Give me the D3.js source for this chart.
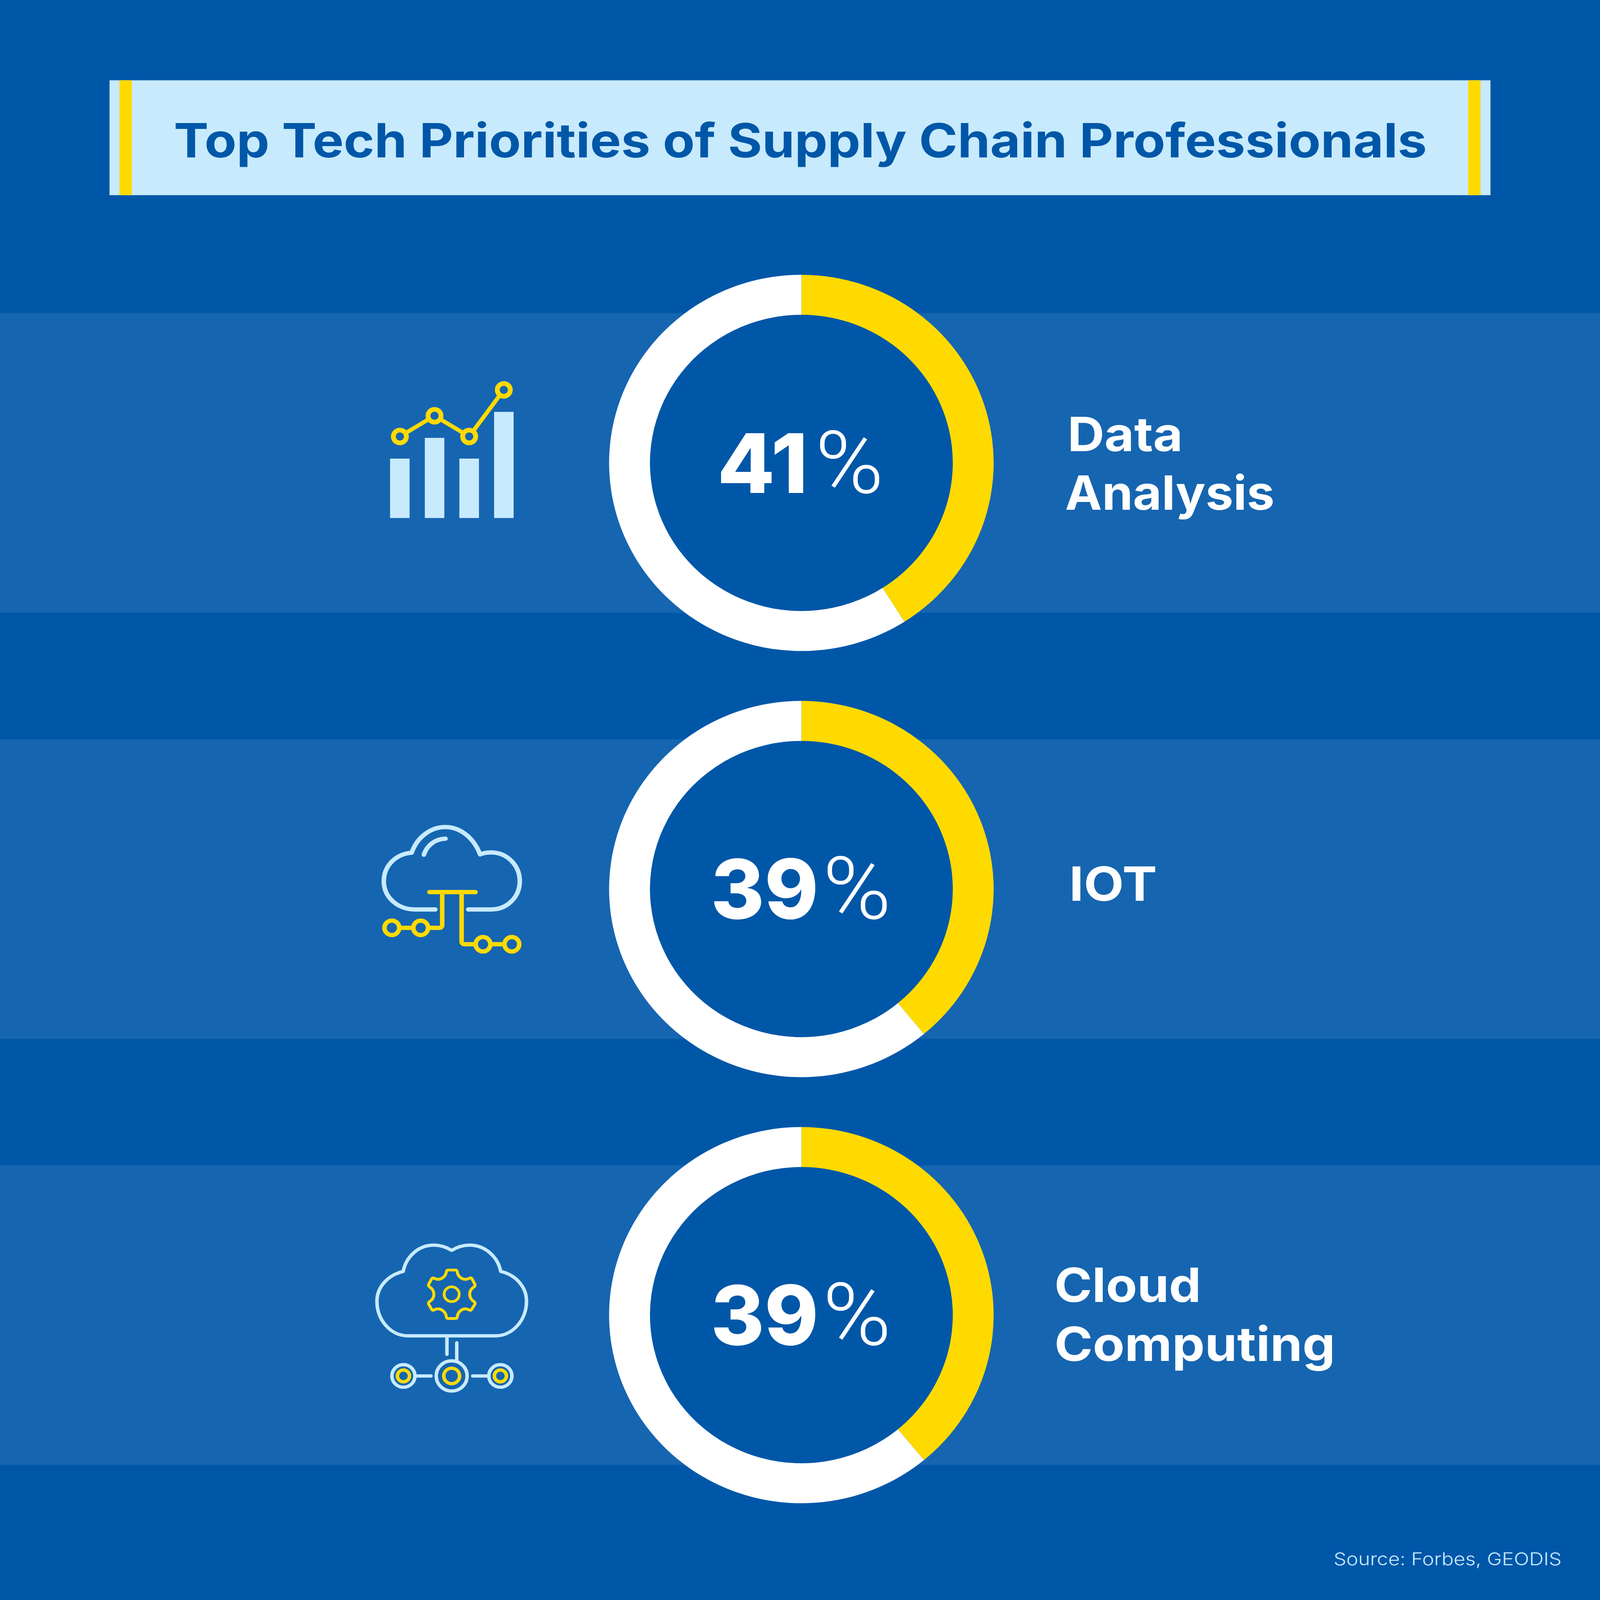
<!DOCTYPE html>
<html>
<head>
<meta charset="utf-8">
<script src="https://cdn.jsdelivr.net/npm/d3@7"></script>
<style>
  html, body { margin: 0; padding: 0; background: #0057a8; overflow: hidden; }
  svg { display: block; width: 100vw; height: 100vh; }
  text { font-family: Inter, "Noto Sans", sans-serif; }
</style>
</head>
<body>
<div id="chart"></div>
<script>
// chart data
const titleText = "Top Tech Priorities of Supply Chain Professionals";
const sourceText = "Source: Forbes, GEODIS";
const categories = ["Data Analysis", "IOT", "Cloud Computing"];
const categoryLines = [["Data", "Analysis"], ["IOT"], ["Cloud", "Computing"]];
const shares = [41, 39, 39];

const width = 4660, height = 4763;
const darkBlue = "#0057a8", bandBlue = "#1665b0", pale = "#c7eafd", yellow = "#ffda00";

// layout, measured on the reference
const outerR = 560, innerR = 441, centerX = 2334;
const bandHeight = 892;
const pctLayout = [
  {numX: 2099, numW: 248, pctX: 2382},
  {numX: 2080, numW: 298, pctX: 2404},
  {numX: 2080, numW: 298, pctX: 2404}
];
const labelLayout = [
  {xs: [3109, 3102], widths: [336, 610], baselines: [1343, 1517]},
  {xs: [3114], widths: [256], baselines: [2682]},
  {xs: [3071, 3071], widths: [427, 818], baselines: [3876, 4051]}
];

// the page window can come out smaller than asked, so the drawing fills it
const svg = d3.select("#chart").append("svg")
    .attr("viewBox", [0, 0, width, height])
    .attr("preserveAspectRatio", "none");

svg.append("rect").attr("width", width).attr("height", height).attr("fill", darkBlue);

// stretch a text run so it takes the measured width
function fitText(node, target) {
    d3.select(node).attr("textLength", target).attr("lengthAdjust", "spacingAndGlyphs");
}

// title strip
svg.append("rect").attr("x", 319).attr("y", 239).attr("width", 4022).attr("height", 342).attr("fill", pale);
svg.append("rect").attr("x", 348).attr("y", 239).attr("width", 36).attr("height", 342).attr("fill", yellow);
svg.append("rect").attr("x", 4276).attr("y", 239).attr("width", 36).attr("height", 342).attr("fill", yellow);
svg.append("text")
    .attr("x", 506)
    .attr("y", 469)
    .attr("font-size", 140)
    .attr("font-weight", 700)
    .attr("fill", darkBlue)
    .text(titleText)
    .each(function() { fitText(this, 3650); });

const rowY = d3.scalePoint().domain(categories).range([1378, 3915]);

const pie = d3.pie().sort(null);
const arc = d3.arc().innerRadius(innerR).outerRadius(outerR);

const rows = svg.selectAll("g.row")
    .data(categories)
    .join("g")
    .attr("class", "row");

rows.append("rect")
    .attr("x", 0)
    .attr("y", d => rowY(d) - bandHeight / 2)
    .attr("width", width)
    .attr("height", bandHeight)
    .attr("fill", bandBlue);

rows.append("circle")
    .attr("cx", centerX)
    .attr("cy", d => rowY(d))
    .attr("r", innerR)
    .attr("fill", darkBlue);

rows.each(function(d, i) {
    const g = d3.select(this);
    const donut = g.append("g").attr("transform", "translate(" + centerX + "," + rowY(d) + ")");
    donut.selectAll("path")
        .data(pie([shares[i], 100 - shares[i]]))
        .join("path")
        .attr("d", arc)
        .attr("fill", (s, j) => j == 0 ? yellow : "#ffffff");

    // percentage: heavy digits, light sign
    const t = g.append("text").attr("y", rowY(d) + 89).attr("fill", "#ffffff").attr("font-size", 245);
    t.append("tspan")
        .attr("x", pctLayout[i].numX - 10)
        .attr("font-weight", 800)
        .text(shares[i])
        .each(function() { fitText(this, pctLayout[i].numW + 16); });
    t.append("tspan")
        .attr("x", pctLayout[i].pctX - 8)
        .attr("font-family", "Roboto")
        .attr("font-weight", 300)
        .attr("font-size", 258)
        .text("%")
        .each(function() { fitText(this, 200); });

    // right hand label
    g.selectAll("text.label")
        .data(categoryLines[i])
        .join("text")
        .attr("class", "label")
        .attr("x", (s, j) => labelLayout[i].xs[j])
        .attr("y", (s, j) => labelLayout[i].baselines[j])
        .attr("font-size", 141)
        .attr("font-weight", 700)
        .attr("fill", "#ffffff")
        .text(s => s)
        .each(function(s, j) { fitText(this, labelLayout[i].widths[j]); });
});

svg.append("text")
    .attr("x", 3884)
    .attr("y", 4660)
    .attr("font-size", 52)
    .attr("font-weight", 300)
    .attr("fill", pale)
    .text(sourceText)
    .each(function() { fitText(this, 664); });

// icons are traced in crop coordinates, the group maps them back to the page
function iconGroup(x, y, sx, sy) {
    const g = svg.append("g").attr("transform", "translate(" + x + "," + y + ") scale(" + (1 / sx) + "," + (1 / sy) + ")");
    const k = (sx + sy) / 2;
    return {
        line(d, color, sw) {
            g.append("path").attr("d", d).attr("fill", "none").attr("stroke", color)
                .attr("stroke-width", sw * k).attr("stroke-linecap", "round").attr("stroke-linejoin", "round");
        },
        ring(cx, cy, r, color, sw) {
            g.append("ellipse").attr("cx", cx).attr("cy", cy).attr("rx", r * sx).attr("ry", r * sy)
                .attr("fill", bandBlue).attr("stroke", color).attr("stroke-width", sw * k);
        },
        bar(x0, x1, y0, y1, color) {
            g.append("rect").attr("x", x0).attr("y", y0).attr("width", x1 - x0).attr("height", y1 - y0).attr("fill", color);
        }
    };
}

// bars with trend line
const icon1 = iconGroup(1040, 1080, 2.904, 2.904);
icon1.bar(279, 444, 828, 1342, pale);
icon1.bar(573, 738, 649, 1342, pale);
icon1.bar(865, 1031, 828, 1342, pale);
icon1.bar(1159, 1324, 424, 1342, pale);
icon1.line("M362 637L655 458L948 637L1241 234", yellow, 12);
icon1.ring(362, 637, 19, yellow, 14);
icon1.ring(655, 458, 19, yellow, 14);
icon1.ring(948, 637, 19, yellow, 14);
icon1.ring(1241, 234, 19, yellow, 14);

// cloud with circuit
const icon2 = iconGroup(1040, 2400, 2.904, 3);
icon2.line("M662 922L490 922C340 922 226 810 226 670C226 530 330 425 462 415C505 285 615 186 745 186C880 186 990 290 1040 430C1070 418 1100 413 1135 413C1270 413 1376 530 1376 670C1376 810 1270 922 1135 922L940 922", pale, 13);
icon2.line("M565 433C590 350 660 292 748 290", pale, 13);
icon2.line("M612 767H1002", yellow, 13);
icon2.line("M720 767V1060Q720 1086 695 1086H610", yellow, 13);
icon2.line("M375 1086H460", yellow, 13);
icon2.line("M884 767V1205Q884 1233 910 1233H990", yellow, 13);
icon2.line("M1145 1233H1230", yellow, 13);
icon2.ring(294, 1086, 21.5, yellow, 13);
icon2.ring(538, 1086, 21.5, yellow, 13);
icon2.ring(1065, 1233, 21.5, yellow, 13);
icon2.ring(1309, 1233, 21.5, yellow, 13);

// cloud with gear and nodes
const icon3 = iconGroup(1040, 3660, 2.904, 3);
icon3.line("M430 950C285 950 168 810 168 640C168 510 265 405 390 375C415 240 520 140 650 140C705 140 755 158 800 187C845 158 895 140 950 140C1080 140 1190 240 1215 375C1340 405 1433 510 1433 640C1433 810 1315 950 1170 950Z", pale, 10);
icon3.line("M770 362H832Q845 362 847 378C852 420 895 465 950 436Q965 428 973 442L995 487Q1002 502 990 512C940 545 940 612 990 645Q1002 655 995 670L970 712Q962 726 948 718C895 690 852 735 847 780Q845 795 832 795H770Q757 795 755 780C750 735 705 690 652 718Q638 726 630 712L607 670Q600 655 612 645C662 612 662 545 612 512Q600 502 607 487L630 442Q638 428 652 436C705 465 750 420 755 378Q757 362 770 362Z", yellow, 8.5);
icon3.ring(800, 578, 22, yellow, 8);
icon3.line("M760 950V1115", pale, 10);
icon3.line("M843 1013V1170", pale, 10);
icon3.line("M505 1308H625", pale, 10);
icon3.line("M978 1308H1100", pale, 10);
icon3.ring(392, 1308, 33.6, pale, 10);
icon3.ring(800, 1308, 45, pale, 10);
icon3.ring(1212, 1308, 33.6, pale, 10);
icon3.ring(392, 1308, 17.5, yellow, 10);
icon3.ring(800, 1308, 23, yellow, 10);
icon3.ring(1212, 1308, 17.5, yellow, 10);
</script>
</body>
</html>
